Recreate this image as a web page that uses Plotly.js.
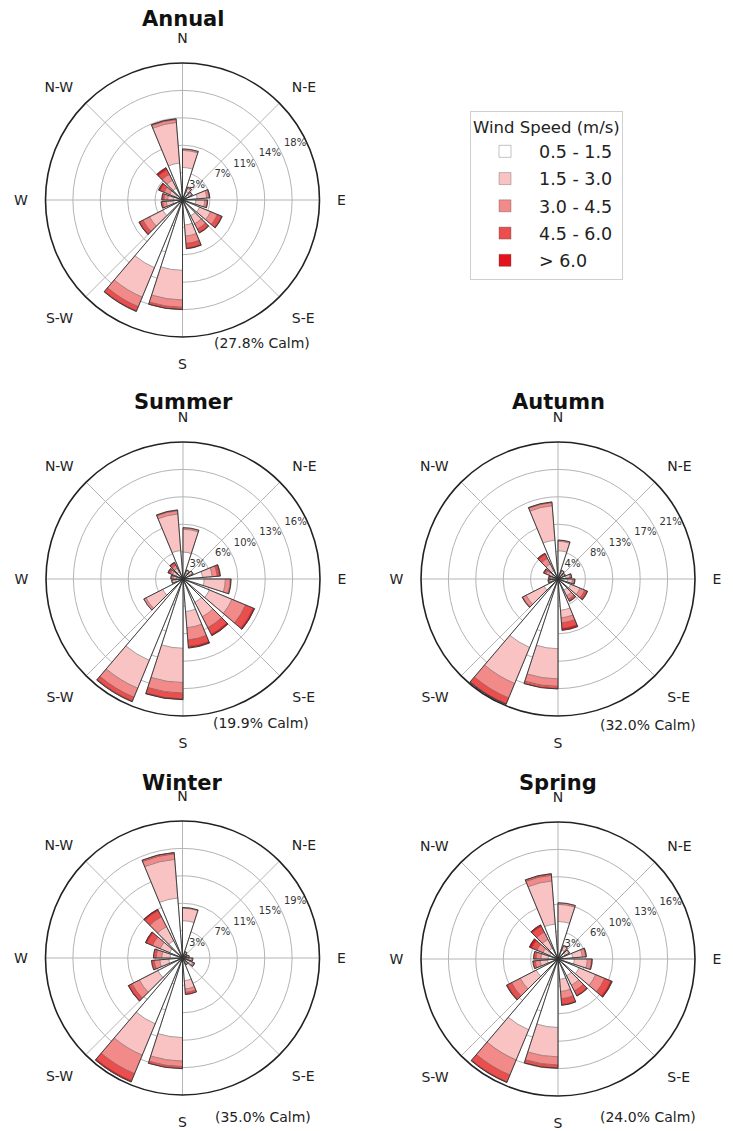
<!DOCTYPE html>
<html>
<head>
<meta charset="utf-8">
<script src="https://cdn.plot.ly/plotly-3.0.1.min.js"></script>
<style>
html,body{margin:0;padding:0;background:#fff;}
#chart{width:733px;height:1131px;}
</style>
</head>
<body>
<div id="chart"></div>
<script>
// ---------------- DATA ----------------
const directions = ['N','NNE','NE','ENE','E','ESE','SE','SSE','S','SSW','SW','WSW','W','WNW','NW','NNW'];
const speedBins = ['0.5 - 1.5','1.5 - 3.0','3.0 - 4.5','4.5 - 6.0','> 6.0'];
const seasons = ['Annual','Summer','Autumn','Winter','Spring'];
const calmText = ['(27.8% Calm)','(19.9% Calm)','(32.0% Calm)','(35.0% Calm)','(24.0% Calm)'];

// frequency (%) per speed bin, 16 directions starting at N, clockwise
const annual = [
  [4.4,1.2,1.0,2.0,1.8,2.5,2.4,3.4,9.5,9.9,3.0,1.3,1.2,1.0,1.8,5.0],
  [2.3,0.5,0.4,1.3,1.2,1.6,1.2,1.5,4.0,4.3,2.0,0.9,0.8,0.9,1.2,5.5],
  [0.2,0.2,0.1,0.3,0.3,1.0,0.8,1.0,1.0,1.4,1.0,0.5,0.5,0.8,0.9,0.4],
  [0.0,0.0,0.0,0.1,0.1,0.6,0.5,0.6,0.3,0.6,0.5,0.2,0.3,0.6,0.7,0.1],
  [0.0,0.0,0.0,0.0,0.0,0.1,0.1,0.1,0.0,0.1,0.1,0.0,0.0,0.2,0.3,0.0]
];
const summer = [
  [3.3,0.8,0.9,2.4,2.6,3.5,3.2,4.0,8.5,10.8,2.8,0.9,0.8,0.9,1.0,3.5],
  [2.8,0.3,0.4,1.2,2.6,3.0,2.0,2.0,4.2,3.7,2.3,0.4,0.4,0.5,0.5,4.5],
  [0.2,0.1,0.1,0.6,0.6,1.8,1.5,1.5,1.3,1.2,0.3,0.1,0.2,0.3,0.4,0.4],
  [0.0,0.0,0.0,0.3,0.1,1.0,0.9,0.8,0.7,0.5,0.0,0.0,0.1,0.2,0.3,0.1],
  [0.0,0.0,0.0,0.1,0.0,0.2,0.2,0.2,0.1,0.1,0.0,0.0,0.0,0.1,0.1,0.0]
];
const autumn = [
  [4.5,1.0,0.9,1.3,1.5,2.2,2.0,5.0,11.1,11.8,2.5,0.9,0.8,1.0,1.5,6.2],
  [1.5,0.4,0.3,0.6,0.8,1.6,1.0,1.2,4.8,6.2,3.2,0.4,0.4,0.6,1.2,5.5],
  [0.2,0.1,0.1,0.2,0.3,0.8,0.6,0.8,1.2,2.5,0.6,0.2,0.2,0.5,1.0,0.5],
  [0.0,0.0,0.0,0.1,0.1,0.4,0.3,0.9,0.4,1.0,0.1,0.1,0.1,0.3,0.7,0.1],
  [0.0,0.0,0.0,0.0,0.0,0.1,0.1,0.3,0.0,0.1,0.0,0.0,0.0,0.1,0.2,0.0]
];
const winter = [
  [5.4,0.6,0.5,0.6,0.9,1.1,0.7,3.3,11.5,10.3,4.0,2.0,1.8,2.0,2.8,8.7],
  [1.8,0.3,0.2,0.3,0.4,0.5,0.3,1.2,3.4,4.9,3.0,1.3,1.2,1.5,2.3,5.6],
  [0.1,0.1,0.1,0.1,0.2,0.2,0.1,0.5,0.8,2.9,1.2,0.8,0.8,1.2,1.6,0.8],
  [0.0,0.0,0.0,0.0,0.0,0.1,0.0,0.3,0.3,1.1,0.5,0.4,0.4,0.9,1.0,0.2],
  [0.0,0.0,0.0,0.0,0.0,0.0,0.0,0.0,0.0,0.2,0.1,0.0,0.0,0.2,0.2,0.0]
];
const spring = [
  [4.6,1.2,1.0,1.8,2.0,2.8,2.3,2.5,8.4,9.4,3.0,1.3,1.2,1.1,1.5,4.3],
  [2.1,0.5,0.5,1.2,1.6,2.2,1.3,1.5,3.6,4.0,2.2,0.9,0.9,0.9,1.2,5.3],
  [0.2,0.1,0.1,0.4,0.5,1.2,0.8,0.9,1.0,2.0,1.2,0.6,0.6,0.8,1.0,0.7],
  [0.0,0.0,0.0,0.1,0.1,0.8,0.6,0.7,0.4,0.9,0.6,0.3,0.3,0.7,0.8,0.2],
  [0.0,0.0,0.0,0.0,0.0,0.2,0.1,0.1,0.0,0.1,0.1,0.0,0.0,0.3,0.2,0.0]
];
const seasonData = [annual, summer, autumn, winter, spring];

// radial axis extent and its tick labels
const radialMax = [18.5, 16.8, 21.8, 19.8, 16.8];
const radialLabels = [
  ['3%','7%','11%','14%','18%'],
  ['3%','6%','10%','13%','16%'],
  ['4%','8%','13%','17%','21%'],
  ['3%','7%','11%','15%','19%'],
  ['3%','6%','10%','13%','16%']
];
const compassLabels = ['N','N-E','E','S-E','S','S-W','W','N-W'];

// ---------------- STYLE / LAYOUT ----------------
const binColors = ['#ffffff','#fac3c3','#f38a8a','#ec4e4e','#e3121b'];
const W = 733, H = 1131, R = 137;
const centers = [[182.5,200],[183,579],[558,579],[182.5,958],[558,959]];
const titleY = [19, 402, 402, 783, 783];
const calmPos = [[262,343],[261,723],[648,725],[263,1117],[648,1117]];
const FONT = 'DejaVu Sans, Verdana, sans-serif';
const RADIAL_ANGLE = 22.5;

const sectorStep = 360 / directions.length;
const opening = sectorStep * 0.8;
const theta = directions.map((d, i) => i * sectorStep + opening / 2);

const traces = [];
const layout = {
  width: W, height: H,
  margin: {l:0, r:0, t:0, b:0, pad:0},
  paper_bgcolor: '#ffffff',
  font: {family: FONT, color: '#222'},
  showlegend: true,
  legend: {
    x: 470/W, y: 1 - 111/H, xanchor: 'left', yanchor: 'top',
    bgcolor: '#ffffff', bordercolor: '#cfcfcf', borderwidth: 1,
    font: {family: FONT, size: 17.5, color: '#222'},
    title: {text: 'Wind Speed (m/s)', font: {family: FONT, size: 16.5, color: '#222'}},
    tracegroupgap: 1.5, itemwidth: 58
  },
  annotations: []
};

seasonData.forEach((bins, s) => {
  const pid = s === 0 ? 'polar' : 'polar' + (s + 1);
  const [cx, cy] = centers[s];
  const rmax = radialMax[s];
  const base = directions.map(() => 0);
  bins.forEach((vals, b) => {
    traces.push({
      type: 'barpolar', subplot: pid,
      name: speedBins[b], legendgroup: 'bin' + b, showlegend: s === 0,
      theta: theta, r: vals, base: base.slice(), width: opening,
      marker: {color: binColors[b], line: {color: 'rgba(70,70,70,0.55)', width: 0.6}},
      hoverinfo: 'skip'
    });
    vals.forEach((v, i) => base[i] += v);
  });
  // outline of the whole bar
  traces.push({
    type: 'barpolar', subplot: pid, showlegend: false,
    theta: theta, r: base.slice(), base: 0, width: opening,
    marker: {color: 'rgba(0,0,0,0)', line: {color: '#333', width: 0.9}},
    hoverinfo: 'skip'
  });
  layout[pid] = {
    domain: {x: [(cx - R)/W, (cx + R)/W], y: [1 - (cy + R)/H, 1 - (cy - R)/H]},
    bgcolor: '#ffffff',
    barmode: 'overlay',
    angularaxis: {
      rotation: 90, direction: 'clockwise',
      tickmode: 'array', tickvals: compassLabels.map((t, i) => i * 45), ticktext: compassLabels,
      ticks: 'outside', ticklen: 14, tickcolor: 'rgba(0,0,0,0)',
      tickfont: {family: FONT, size: 14, color: '#222'},
      showline: true, linecolor: '#222', linewidth: 1.6,
      showgrid: true, gridcolor: '#b4b4b4', gridwidth: 1
    },
    radialaxis: {
      range: [0, rmax], angle: RADIAL_ANGLE, side: 'counterclockwise',
      tickmode: 'array',
      tickvals: radialLabels[s].map((t, i) => (i + 1) * rmax / radialLabels[s].length),
      ticktext: radialLabels[s],
      tickfont: {family: FONT, size: 10, color: '#333'},
      showline: false, ticks: '', tickangle: RADIAL_ANGLE,
      showgrid: true, gridcolor: '#b4b4b4', gridwidth: 1
    }
  };
  layout.annotations.push({
    text: '<b>' + seasons[s] + '</b>', x: cx/W, y: 1 - titleY[s]/H,
    xref: 'paper', yref: 'paper', xanchor: 'center', yanchor: 'middle', showarrow: false,
    font: {family: FONT, size: 21, color: '#111'}
  });
  layout.annotations.push({
    text: calmText[s], x: calmPos[s][0]/W, y: 1 - calmPos[s][1]/H,
    xref: 'paper', yref: 'paper', xanchor: 'center', yanchor: 'middle', showarrow: false,
    font: {family: FONT, size: 14, color: '#222'}
  });
});

Plotly.newPlot('chart', traces, layout, {staticPlot: true, displayModeBar: false});
</script>
</body>
</html>
